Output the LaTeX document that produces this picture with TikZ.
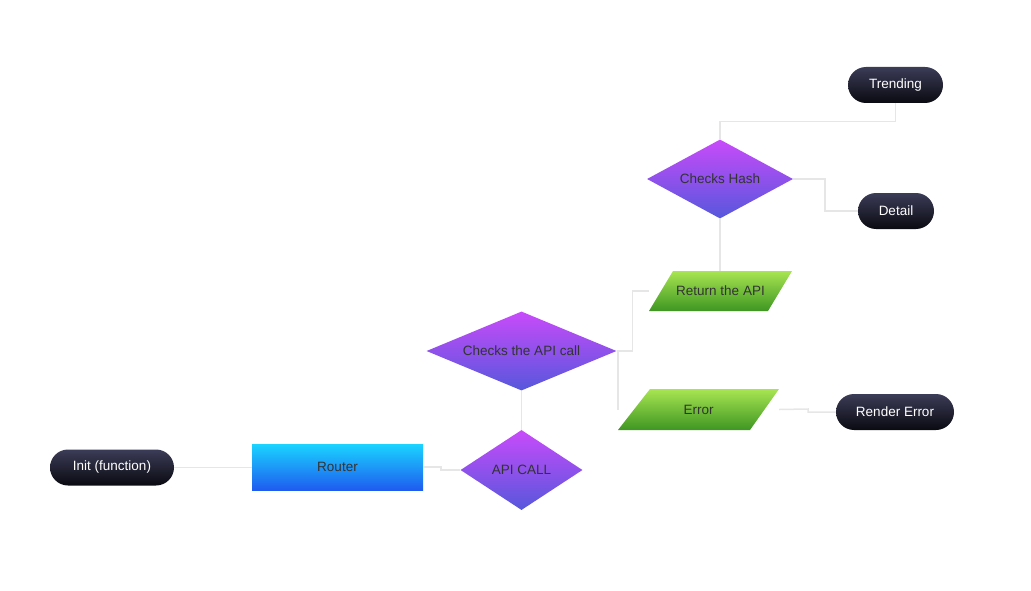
\documentclass[tikz,border=0pt]{standalone}
\usepackage{fontspec}
\setmainfont{Liberation Sans}
\usetikzlibrary{shapes.geometric,calc}
\definecolor{linec}{HTML}{E6E6E6}
\definecolor{txt}{HTML}{333333}
\definecolor{pilltop}{HTML}{3B3C57}
\definecolor{pillbot}{HTML}{0A0A11}
\definecolor{dtop}{HTML}{C84BFA}
\definecolor{dbot}{HTML}{5657DC}
\definecolor{gtop}{HTML}{A8E552}
\definecolor{gbot}{HTML}{3E9622}
\definecolor{btop}{HTML}{1AD4FF}
\definecolor{bbot}{HTML}{1E5CEF}
\tikzset{
  pill/.style={rectangle, rounded corners=18pt, minimum height=36pt, inner sep=0pt,
    top color=pilltop, bottom color=pillbot, text=white, font=\fontsize{13.5}{15}\selectfont},
  decision/.style={diamond, inner sep=0pt, top color=dtop, bottom color=dbot,
    text=txt, font=\fontsize{13.5}{15}\selectfont},
  procbox/.style={rectangle, inner sep=0pt, top color=btop, bottom color=bbot,
    text=txt, font=\fontsize{13.5}{15}\selectfont},
  iobox/.style={rectangle, inner sep=0pt, text=txt, font=\fontsize{13.5}{15}\selectfont},
  iofill/.style={top color=gtop, bottom color=gbot},
  conn/.style={draw=linec, line width=1.5pt}
}
\begin{document}
\begin{tikzpicture}[x=1pt,y=-1pt]
\useasboundingbox (0,0) rectangle (1031,591);
% parallelogram fills
\path[iofill] (649,311) -- (673,271) -- (792,271) -- (768,311) -- cycle;
\path[iofill] (618,430) -- (650,389) -- (779,389) -- (750,430) -- cycle;
\coordinate (c1) at (441,467);
\coordinate (c2) at (808,409);
% nodes
\node[pill, minimum width=124pt] (init) at (112,467.5) {Init (function)};
\node[procbox, minimum width=171pt, minimum height=46pt] (router) at (337.5,467) {Router};
\node[decision, minimum width=122pt, minimum height=80pt, aspect=1.525] (api) at (521.5,470) {API CALL};
\node[decision, minimum width=190pt, minimum height=79pt, aspect=2.4] (cap) at (521.5,351) {Checks the API call};
\node[iobox, minimum width=143pt, minimum height=40pt] (ret) at (720.5,291) {Return the API};
\node[iobox, minimum width=161pt, minimum height=41pt] (err) at (698.5,409.5) {Error};
\node[decision, minimum width=146pt, minimum height=79pt, aspect=1.85] (hash) at (720,179) {Checks Hash};
\node[pill, minimum width=95pt] (trend) at (895.5,85) {Trending};
\node[pill, minimum width=76pt] (detail) at (896,211) {Detail};
\node[pill, minimum width=118pt] (rend) at (895,412) {Render Error};
% connectors
\draw[conn] (init.east) -- (init.east -| router.west);
\draw[conn] (router.east) -- (c1) |- (api.west);
\draw[conn] (api.north) -- (cap.south);
\draw[conn] (cap.east) -- ++(16,0) |- (ret.west);
\draw[conn] (cap.east) -| (err.west);
\draw[conn] (err.east) -- (c2) |- (rend.west);
\draw[conn] (ret.north -| hash.south) -- (hash.south);
\draw[conn] (hash.north) |- ++(0,-18) -| (trend.south);
\draw[conn] (hash.east) -- ++(32,0) |- (detail.west);
\end{tikzpicture}
\end{document}
